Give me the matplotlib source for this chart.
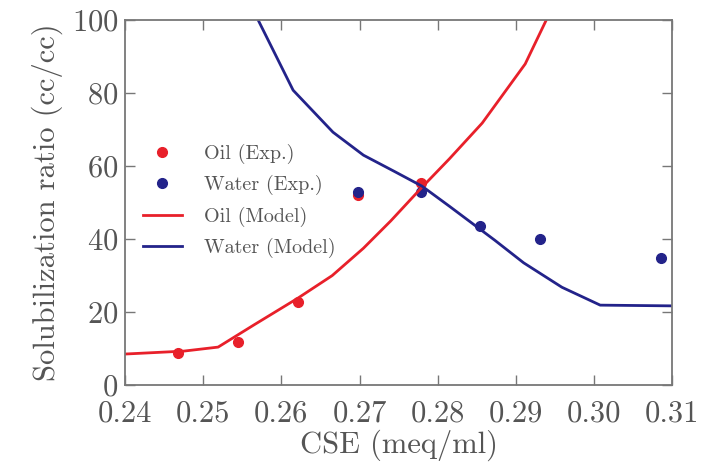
import matplotlib.pyplot as plt

plt.rcParams['font.family'] = ['cmr10', 'DejaVu Serif']
plt.rcParams['mathtext.fontset'] = 'cm'
plt.rcParams['axes.formatter.use_mathtext'] = True

# experimental points
oil_exp_x = [0.2468, 0.2545, 0.2621, 0.2698, 0.2779]
oil_exp_y = [8.8, 11.8, 22.7, 52.0, 55.3]
water_exp_x = [0.2698, 0.2779, 0.2854, 0.2931, 0.3086]
water_exp_y = [53.0, 53.0, 43.6, 40.0, 34.8]

# model curves
oil_mod_x = [0.240, 0.2475, 0.2519, 0.2565, 0.2621, 0.2665, 0.2705, 0.2740,
             0.2779, 0.2815, 0.2857, 0.2912, 0.2940]
oil_mod_y = [8.5, 9.3, 10.4, 16.5, 23.8, 30.0, 37.5, 45.0,
             54.0, 62.0, 71.8, 88.0, 100.5]
water_mod_x = [0.2568, 0.2615, 0.2666, 0.2705, 0.2745, 0.2780, 0.2815,
               0.2873, 0.2910, 0.2959, 0.3008, 0.3100]
water_mod_y = [101.0, 80.8, 69.3, 63.0, 58.5, 54.5, 49.0,
               39.7, 33.5, 26.8, 21.9, 21.7]

red = '#e8202a'
blue = '#23238a'
grey = '#555555'

fig = plt.figure(figsize=(7.15, 4.69), dpi=100)
ax = fig.add_axes([0.175, 0.179, 0.765, 0.778])

ax.plot(oil_exp_x, oil_exp_y, 'o', color=red, ms=7, label='Oil (Exp.)')
ax.plot(water_exp_x, water_exp_y, 'o', color=blue, ms=7, label='Water (Exp.)')
ax.plot(oil_mod_x, oil_mod_y, '-', color=red, lw=2, label='Oil (Model)')
ax.plot(water_mod_x, water_mod_y, '-', color=blue, lw=2, label='Water (Model)')

ax.set_xlim(0.24, 0.31)
ax.set_ylim(0, 100)
ax.set_xticks([0.24, 0.25, 0.26, 0.27, 0.28, 0.29, 0.30, 0.31])
ax.set_xticklabels(['0.24', '0.25', '0.26', '0.27', '0.28', '0.29', '0.30', '0.31'])
ax.set_yticks([0, 20, 40, 60, 80, 100])

ax.tick_params(direction='in', top=True, right=True, length=7, width=1,
               colors='#777777', labelsize=22, labelcolor=grey)
ax.tick_params(axis='x', pad=11)
ax.tick_params(axis='y', pad=5)
for s in ax.spines.values():
    s.set_color('#777777')
    s.set_linewidth(1.3)

ax.set_xlabel('CSE (meq/ml)', fontsize=22, color=grey, labelpad=1)
ax.set_ylabel('Solubilization ratio (cc/cc)', fontsize=22, color=grey, labelpad=6)

leg = ax.legend(loc='upper left', bbox_to_anchor=(0.0, 0.71), frameon=False,
                fontsize=14.5, labelspacing=0.55, handlelength=1.9,
                handletextpad=1.1, numpoints=1)
for t in leg.get_texts():
    t.set_color(grey)

fig.savefig('out.png', dpi=100)
